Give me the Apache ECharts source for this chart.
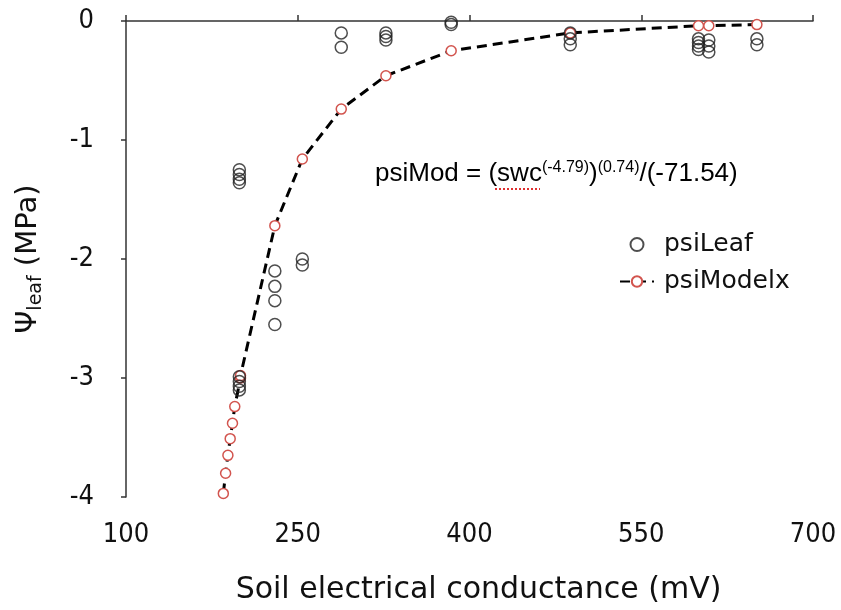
<!DOCTYPE html>
<html><head><meta charset="utf-8">
<script src="https://cdn.jsdelivr.net/npm/echarts@6/dist/echarts.min.js"></script>
<style>html,body{margin:0;padding:0;background:#fff}#c{width:841px;height:610px}</style>
</head><body><div id="c"></div>
<script>
// Observed leaf water potential
const psiLeafX = [199,199,199,199, 199,199,199,199, 230,230,230,230, 254,254, 288,288, 327,327,327, 384,384, 488,488,488, 600,600,600,600, 609,609,609, 651,651];
const psiLeafY = [-1.25,-1.29,-1.33,-1.36, -2.99,-3.03,-3.07,-3.1, -2.1,-2.23,-2.35,-2.55, -2.0,-2.05, -0.1,-0.22, -0.1,-0.13,-0.16, -0.01,-0.03, -0.1,-0.15,-0.2, -0.15,-0.18,-0.21,-0.24, -0.16,-0.21,-0.26, -0.15,-0.2];
// Modelled values
const modelX = [185,187,189,191,193,195,200,200,230,254,288,327,384,488,600,609,651];
const modelY = [-3.97,-3.8,-3.65,-3.51,-3.38,-3.24,-3.0,-2.98,-1.72,-1.16,-0.74,-0.46,-0.25,-0.1,-0.04,-0.04,-0.03];
const xTicks = [100,250,400,550,700];
const yTicks = [-4,-3,-2,-1,0];

const FONT = '"DejaVu Sans",sans-serif';
const FONTC = '"DejaVu Sans Condensed","DejaVu Sans",sans-serif';
const ARIAL = '"Liberation Sans",Arial,sans-serif';
const RED = '#d2544e';
const chart = echarts.init(document.getElementById('c'));
chart.setOption({
  animation:false,
  backgroundColor:'#fff',
  grid:{left:126,right:28,top:21,bottom:111},
  xAxis:{type:'value',min:xTicks[0],max:xTicks[xTicks.length-1],interval:150,
    name:'Soil electrical conductance (mV)',nameLocation:'middle',nameGap:78,
    nameTextStyle:{fontFamily:FONT,fontSize:30,color:'#111',padding:[0,0,0,18]},
    axisLine:{lineStyle:{color:'#333',width:1.5}},
    axisTick:{inside:true,length:6,lineStyle:{color:'#333',width:1.5}},
    axisLabel:{fontFamily:FONTC,fontSize:27,color:'#111',margin:24},
    splitLine:{show:false}},
  yAxis:{type:'value',min:yTicks[0],max:yTicks[yTicks.length-1],interval:1,
    name:'{a|Ψ}{s|leaf}{a| (MPa)}',nameLocation:'middle',nameGap:80,nameRotate:90,
    nameTextStyle:{rich:{a:{fontFamily:FONT,fontSize:29,color:'#111'},s:{fontFamily:FONT,fontSize:19,color:'#111',verticalAlign:'bottom',padding:[16,0,0,0]}}},
    axisLine:{show:true,lineStyle:{color:'#333',width:1.5}},
    axisTick:{show:true,inside:false,length:5,lineStyle:{color:'#333',width:1.5}},
    axisLabel:{fontFamily:FONTC,fontSize:27,color:'#111',margin:32},
    splitLine:{show:false}},
  legend:{orient:'vertical',left:614,top:227,itemGap:12,itemWidth:34,itemHeight:13,
    textStyle:{fontFamily:FONT,fontSize:25,color:'#111',padding:[0,0,0,5]},
    data:['psiLeaf','psiModelx']},
  series:[
    {name:'psiLeaf',type:'scatter',data:psiLeafX.map((x,i)=>[x,psiLeafY[i]]),
      symbol:'circle',symbolSize:12,
      itemStyle:{color:'rgba(255,255,255,0)',borderColor:'#222',borderWidth:1.5},z:3},
    {name:'psiModelx',type:'line',data:modelX.map((x,i)=>[x,modelY[i]]),
      symbol:'circle',symbolSize:10,showSymbol:true,
      lineStyle:{color:'#000',width:3,type:[10,6]},
      itemStyle:{color:'#fff',borderColor:RED,borderWidth:1.5},z:2}
  ],
  graphic:[
    {type:'text',left:375,top:160,style:{
      text:'{m|psiMod = (swc}{p|(-4.79)}{m|)}{p|(0.74)}{m|/(-71.54)}',
      rich:{m:{fontFamily:ARIAL,fontSize:26,color:'#111'},
            p:{fontFamily:ARIAL,fontSize:16,color:'#111',verticalAlign:'top',padding:[0,0,12,0]}}}},
    {type:'line',shape:{x1:495,y1:189,x2:540,y2:189},style:{stroke:'#e03030',lineWidth:2,lineDash:[2,2]}}
  ]
});
</script></body></html>
